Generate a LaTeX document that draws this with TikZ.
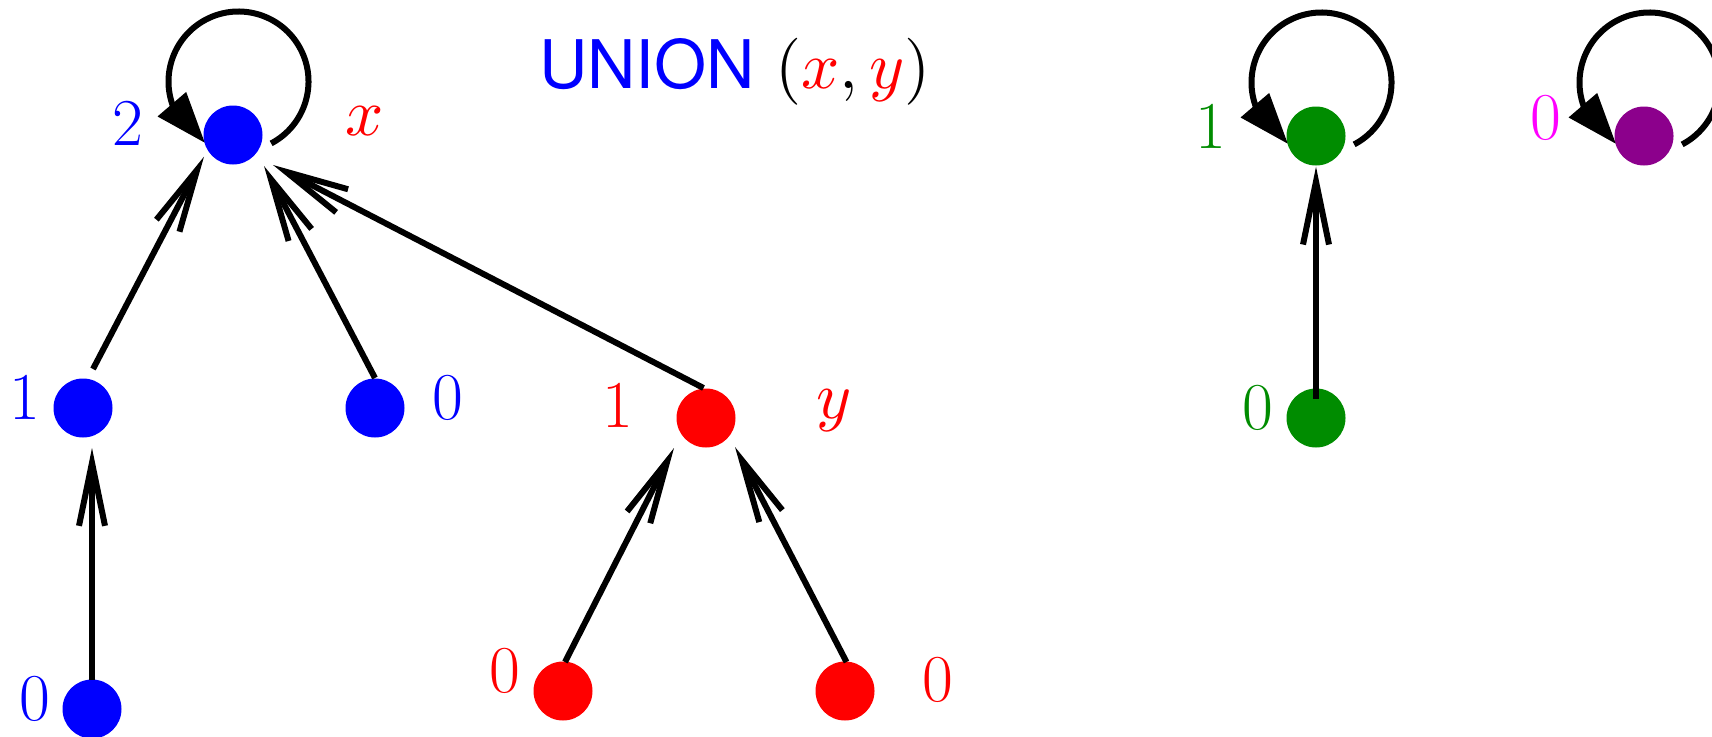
\documentclass[tikz,border=0pt]{standalone}
\usepackage{fontspec}
\newfontfamily\herosfont{TeX Gyre Heros}
\DeclareFontShape{OML}{cmm}{m}{it}{<->cmmi10}{}
\DeclareFontShape{OT1}{cmr}{m}{n}{<->cmr10}{}
\DeclareFontShape{OMS}{cmsy}{m}{n}{<->cmsy10}{}
\usetikzlibrary{arrows.meta,bending,calc}
\definecolor{mygreen}{RGB}{0,140,0}
\definecolor{mypurple}{RGB}{140,0,140}
\definecolor{mymagenta}{RGB}{255,0,255}
\tikzset{
  dot/.style={circle,fill=#1,minimum size=59pt,inner sep=0pt,outer sep=0pt},
  lab/.style={font=\fontsize{67}{80}\selectfont,inner sep=0pt,anchor=base,text=#1},
  treeedge/.style={line width=6pt,-{Straight Barb[length=63pt,width=26pt,line cap=butt,line join=miter]}},
  loopedge/.style={line width=6pt,-{Triangle[length=51pt,width=36pt]}}
}
\begin{document}
\begin{tikzpicture}[x=1pt,y=1pt]
\useasboundingbox (0,0) rectangle (1712,-736);
% nodes
\node[dot=blue] (b2) at (233,-135) {};
\node[dot=blue] (b1) at (83,-408) {};
\node[dot=blue] (b0) at (92,-709) {};
\node[dot=blue] (bm) at (375,-408) {};
\node[dot=red] (r1) at (706,-418) {};
\node[dot=red] (rl) at (563,-691) {};
\node[dot=red] (rr) at (845,-691) {};
\node[dot=mygreen] (g1) at (1316,-136) {};
\node[dot=mygreen] (g0) at (1316,-418) {};
\node[dot=mypurple] (p) at (1644,-136) {};
% labels
\node[lab=blue] (lb2) at (128,-145.7) {2};
\node[lab=red] (lx) at (365,-135) {$x$};
\node[lab=blue] (lb1) at (25,-419.3) {1};
\node[lab=blue] (lbm) at (448,-419) {0};
\node[lab=blue] (lb0) at (34.7,-720) {0};
\node[lab=red] (lr1) at (618,-427.7) {1};
\node[lab=red] (ly) at (834,-418) {$y$};
\node[lab=red] (lrl) at (505,-692) {0};
\node[lab=red] (lrr) at (937.5,-701) {0};
\node[lab=mygreen] (lg1) at (1210.5,-148) {1};
\node[lab=mygreen] (lg0) at (1257.8,-429) {0};
\node[lab=mymagenta] (lp) at (1545.5,-139) {0};
\node[lab=black] (title) at (735,-88) {{\herosfont\color{blue}UNION} $(\textcolor{red}{x},\textcolor{red}{y})$};
% tree edges
\draw[treeedge] ($(b0)+(0,29)$) -- ($(b1)+(9,-40)$);
\draw[treeedge] ($(b1)+(10,39)$) -- ($(b2)+(-29,-21.7)$);
\draw[treeedge] ($(bm)+(0,30)$) -- ($(b2)+(31,-31)$);
\draw[treeedge] ($(r1)+(-2.5,30)$) -- ($(b2)+(40,-30)$);
\draw[treeedge] ($(rl)+(2,29)$) -- ($(r1)+(-32,-30)$);
\draw[treeedge] ($(rr)+(1.5,29)$) -- ($(r1)+(29,-29)$);
\draw[treeedge] ($(g0)+(0,19.4)$) -- ($(g1)+(0,-30.7)$);
% self loops
\foreach \n in {b2,g1,p}{
  \draw[loopedge] ($(\n)+(38.15,-8.42)$) arc[start angle=-62.2,end angle=241.4,radius=70];
}
\end{tikzpicture}
\end{document}
